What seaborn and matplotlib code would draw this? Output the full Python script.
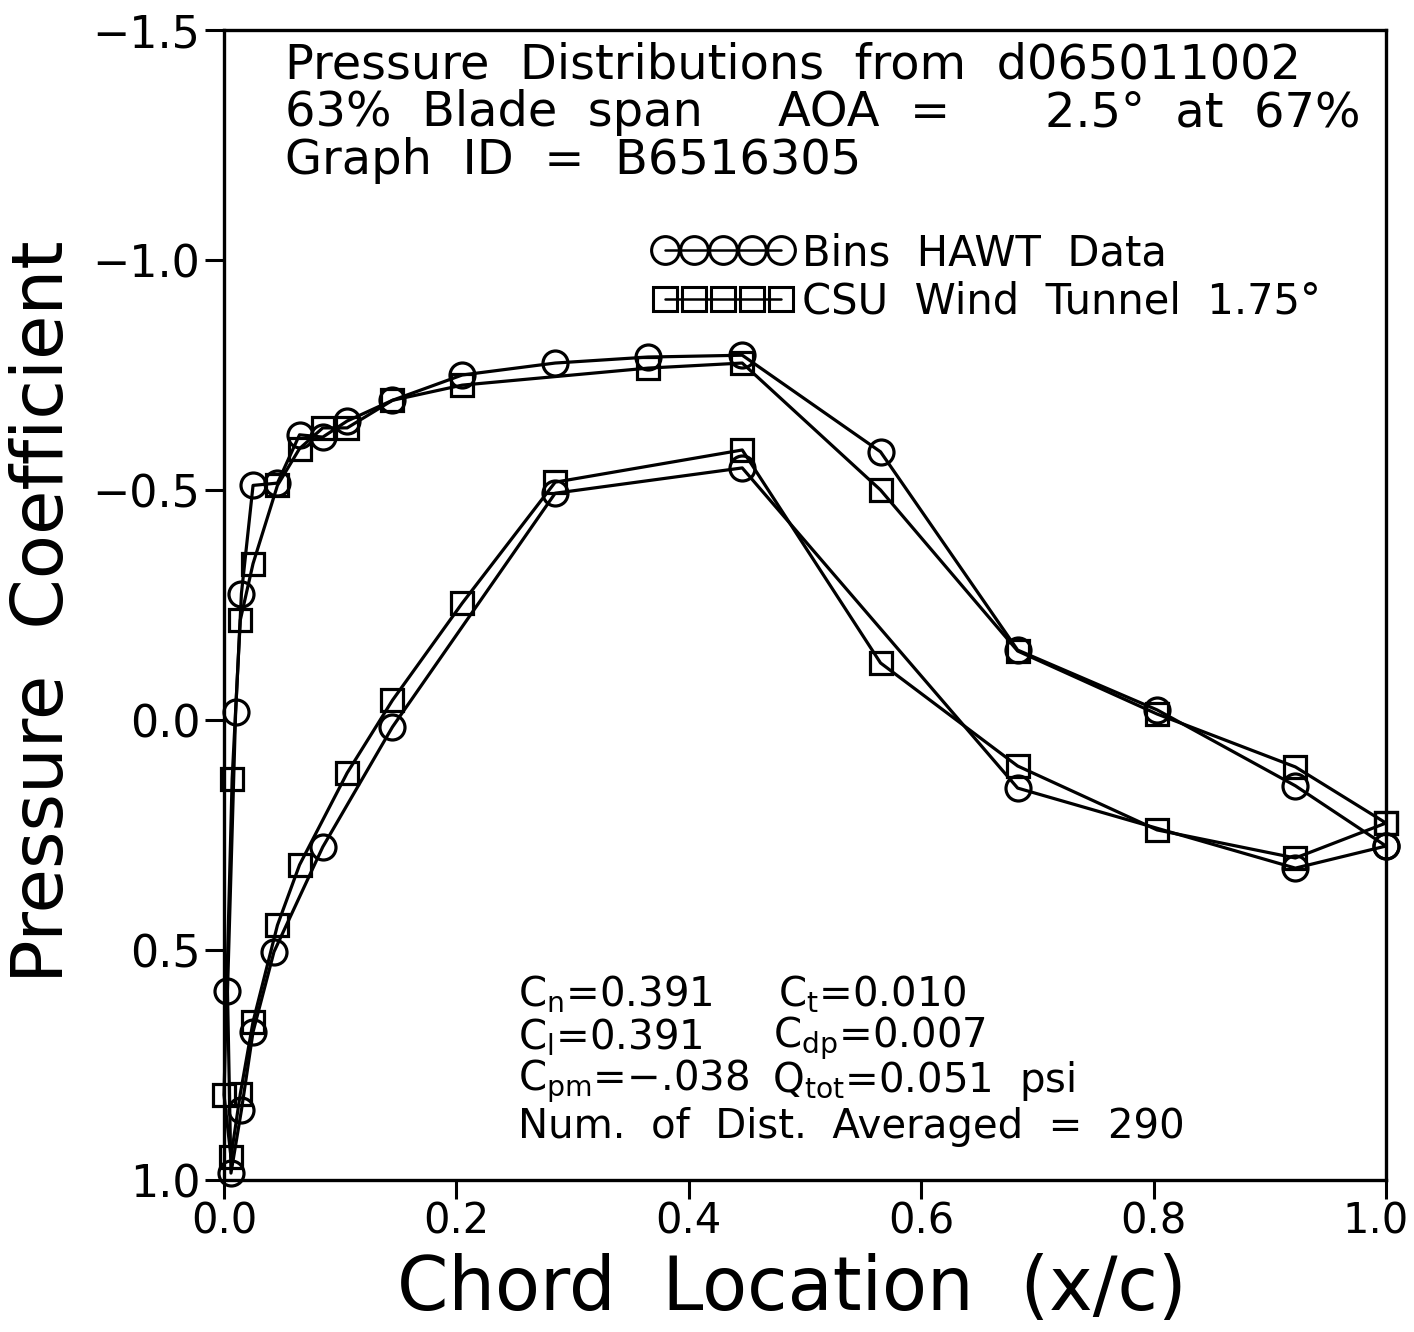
import numpy as np
import pandas as pd
import matplotlib
matplotlib.use("Agg")
import matplotlib.pyplot as plt
import matplotlib.transforms as mtransforms
import seaborn as sns
from matplotlib.lines import Line2D

# ---------------- data ----------------
# Bins HAWT data: upper surface from trailing edge to leading edge
hawt_upper_x = [1.0, 0.922, 0.803, 0.683, 0.565, 0.446, 0.365, 0.285, 0.205, 0.145,
                0.106, 0.085, 0.065, 0.046, 0.025, 0.015, 0.010, 0.003, 0.006]
hawt_upper_cp = [0.274, 0.143, -0.022, -0.152, -0.583, -0.793, -0.789, -0.776, -0.750, -0.695,
                 -0.650, -0.615, -0.620, -0.515, -0.510, -0.275, -0.017, 0.590, 0.985]
# lower surface from leading edge (excluded) to trailing edge
hawt_lower_x = [0.015, 0.025, 0.043, 0.085, 0.145, 0.285, 0.446, 0.683, 0.922, 1.0]
hawt_lower_cp = [0.848, 0.678, 0.504, 0.276, 0.015, -0.493, -0.548, 0.148, 0.322, 0.274]

# CSU wind tunnel 1.75 deg
csu_upper_x = [1.0, 0.922, 0.803, 0.683, 0.565, 0.446, 0.365, 0.205, 0.145, 0.106,
               0.085, 0.065, 0.046, 0.025, 0.014, 0.007, 0.0, 0.006]
csu_upper_cp = [0.224, 0.102, -0.013, -0.150, -0.500, -0.776, -0.765, -0.728, -0.695, -0.635,
                -0.635, -0.590, -0.510, -0.340, -0.217, 0.128, 0.815, 0.950]
csu_lower_x = [0.014, 0.025, 0.046, 0.065, 0.106, 0.145, 0.205, 0.285, 0.446, 0.565,
               0.683, 0.803, 0.922, 1.0]
csu_lower_cp = [0.813, 0.656, 0.446, 0.315, 0.115, -0.043, -0.254, -0.517, -0.587, -0.124,
                0.100, 0.239, 0.300, 0.224]

x_ticks = [0.0, 0.2, 0.4, 0.6, 0.8, 1.0]
y_ticks = [-1.5, -1.0, -0.5, 0.0, 0.5, 1.0]
legend_labels = ["Bins  HAWT  Data", "CSU  Wind  Tunnel  1.75°"]

# ---------------- figure ----------------
sns.set_style("white")
plt.rcParams["font.family"] = ["DejaVu Sans"]
plt.rcParams["font.weight"] = "normal"
plt.rcParams["text.color"] = "black"
plt.rcParams["axes.labelcolor"] = "black"
plt.rcParams["xtick.color"] = "black"
plt.rcParams["ytick.color"] = "black"
plt.rcParams["mathtext.fontset"] = "dejavusans"

W, H = 1414, 1332
fig = plt.figure(figsize=(W / 100, H / 100), dpi=100)
ax = fig.add_axes([224 / W, 1 - 1180 / H, (1386 - 224) / W, (1180 - 30) / H])

df_hawt = pd.DataFrame({"x": hawt_upper_x + hawt_lower_x,
                        "cp": hawt_upper_cp + hawt_lower_cp})
df_csu = pd.DataFrame({"x": csu_upper_x + csu_lower_x,
                       "cp": csu_upper_cp + csu_lower_cp})

common = dict(color="black", lw=2.3, mfc="none", mec="black", mew=2.3,
              sort=False, estimator=None, clip_on=False, ax=ax, legend=False)
sns.lineplot(data=df_hawt, x="x", y="cp", marker="o", ms=18, zorder=3, **common)
sns.lineplot(data=df_csu, x="x", y="cp", marker="s", ms=15.5, zorder=3, **common)

ax.set_xlim(0.0, 1.0)
ax.set_ylim(1.0, -1.5)
ax.set_xticks(x_ticks)
ax.set_xticklabels([f"{v:.1f}" for v in x_ticks])
ax.set_yticks(y_ticks)
ax.set_yticklabels([f"{v:.1f}".replace("-", "\u2212") for v in y_ticks])
ax.tick_params(axis="both", direction="out", length=14, width=2.2, labelsize=32,
               bottom=True, left=True, top=False, right=False, color="black",
               labelcolor="black")
ax.tick_params(axis="x", pad=1, labelsize=30)
ax.tick_params(axis="y", pad=3)
for s in ax.spines.values():
    s.set_visible(True)
    s.set_color("black")
    s.set_linewidth(2.4)

# nudge the last x tick label inward so it stays inside the figure
last = ax.get_xticklabels()[-1]
last.set_transform(last.get_transform() +
                   mtransforms.ScaledTranslation(-10 / 100, 0, fig.dpi_scale_trans))

ax.set_xlabel("")
ax.set_ylabel("")

def P(x, y):
    return (x / W, 1 - y / H)

fig.text(*P(792, 1290), "Chord  Location  (x/c)", ha="center", va="center", fontsize=53)
fig.text(*P(44, 612), "Pressure  Coefficient", ha="center", va="center",
         rotation=90, fontsize=52)

# header text
hdr = dict(fontsize=34.5, va="center", ha="left")
fig.text(*P(285, 65), "Pressure  Distributions  from  d065011002", **hdr)
fig.text(*P(285, 113), "63%  Blade  span", **hdr)
fig.text(*P(778, 113), "AOA  =", **hdr)
fig.text(*P(1045, 113), "2.5°  at  67%", **hdr)
fig.text(*P(285, 160), "Graph  ID  =  B6516305", **hdr)

# stats text
st = dict(fontsize=29, va="center", ha="left")
fig.text(*P(518, 995), r"C$_{\rm n}$=0.391", **st)
fig.text(*P(778, 995), r"C$_{\rm t}$=0.010", **st)
fig.text(*P(518, 1038), r"C$_{\rm l}$=0.391", **st)
fig.text(*P(773, 1038), r"C$_{\rm dp}$=0.007", **st)
fig.text(*P(518, 1081), "C$_{\\rm pm}$=\u2212.038", **st)
fig.text(*P(772, 1081), r"Q$_{\rm tot}$=0.051  psi", **st)
fig.text(*P(518, 1127), "Num.  of  Dist.  Averaged  =  290", **st)

# legend
h1 = Line2D([], [], color="black", lw=1.8, marker="o", ms=20, mfc="none",
            mec="black", mew=2.2)
h2 = Line2D([], [], color="black", lw=1.8, marker="s", ms=17, mfc="none",
            mec="black", mew=2.2)
leg = ax.legend([h1, h2], legend_labels, loc="upper left",
                bbox_to_anchor=((652 - 224) / 1162, (1180 - 232) / 1150),
                frameon=False, fontsize=30, numpoints=5, handlelength=3.4,
                handletextpad=0.2, labelspacing=0.15, borderpad=0,
                borderaxespad=0)

fig.savefig("out.png", dpi=100)
